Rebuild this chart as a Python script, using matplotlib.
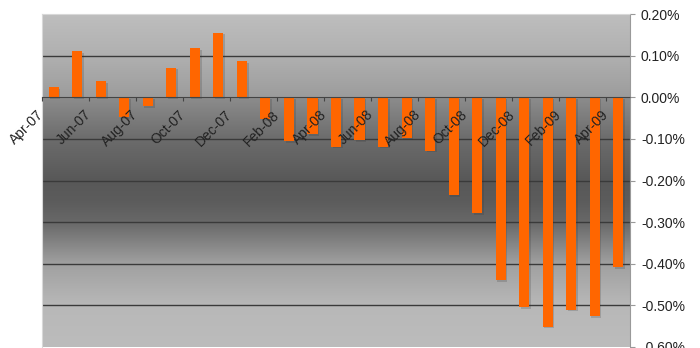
import matplotlib
matplotlib.use('Agg')
import matplotlib.pyplot as plt
import matplotlib.patheffects as pe
import numpy as np

plt.rcParams['font.family'] = ['Liberation Sans', 'DejaVu Sans']

# monthly change, in percent (Apr-07 .. Apr-09)
months = ['Apr-07', 'May-07', 'Jun-07', 'Jul-07', 'Aug-07', 'Sep-07', 'Oct-07',
          'Nov-07', 'Dec-07', 'Jan-08', 'Feb-08', 'Mar-08', 'Apr-08', 'May-08',
          'Jun-08', 'Jul-08', 'Aug-08', 'Sep-08', 'Oct-08', 'Nov-08', 'Dec-08',
          'Jan-09', 'Feb-09', 'Mar-09', 'Apr-09']
values = [0.024, 0.111, 0.038, -0.048, -0.022, 0.071, 0.118, 0.155, 0.087,
          -0.053, -0.105, -0.089, -0.119, -0.103, -0.119, -0.099, -0.128,
          -0.235, -0.279, -0.439, -0.504, -0.551, -0.510, -0.526, -0.408]
yticks = [0.2, 0.1, 0.0, -0.1, -0.2, -0.3, -0.4, -0.5, -0.6]

# background gradient stops (value -> grey level)
bg_pos = [-0.6, -0.5, -0.4, -0.3, -0.25, -0.2, -0.1, -0.001, 0.001, 0.1, 0.2]
bg_lvl = [188, 184, 160, 104, 92, 88, 108, 140, 156, 176, 190]

fig = plt.figure(figsize=(7, 3.48), dpi=100)
ax = fig.add_axes([0.06, 0.003, 0.84, 0.9566])

x = np.arange(len(values))
ymin, ymax = -0.6, 0.2
ax.set_xlim(-0.5, len(values) - 0.5)
ax.set_ylim(ymin, ymax)

# gradient
ys = np.linspace(ymax, ymin, 400)
g = np.interp(ys, bg_pos, bg_lvl) / 255.0
img = np.dstack([g, g, g]).reshape(400, 1, 3)
ax.imshow(img, extent=[-0.5, len(values) - 0.5, ymin, ymax], aspect='auto',
          zorder=0, interpolation='bilinear')

for t in yticks:
    if t not in (0.0, ymin, ymax):
        ax.axhline(t, color='#3a3a3a', lw=1.0, zorder=1)

bars = ax.bar(x, values, width=0.43, color='#ff6600', zorder=2)
for b in bars:
    b.set_path_effects([pe.SimplePatchShadow(offset=(1.2, -1.2),
                                             shadow_rgbFace='#333333', alpha=0.2),
                        pe.Normal()])

ax.set_axisbelow(False)
ax.spines['bottom'].set_position(('data', 0))
ax.spines['bottom'].set_color('#444444')
ax.spines['right'].set_color('#999999')
ax.spines['left'].set_color('#d8d8d8')
ax.spines['top'].set_color('#d8d8d8')

ax.yaxis.tick_right()
ax.set_yticks(yticks)
ax.set_yticklabels(['%.2f%%' % t for t in yticks])
ax.tick_params(axis='y', direction='out', length=3.6, width=0.8, color='#999999',
               pad=4.3, labelsize=10, labelcolor='#222222')

ax.set_xticks(x[::2] - 0.5)
ax.set_xticklabels(months[::2], rotation=45, ha='right', va='center',
                   rotation_mode='anchor')
ax.tick_params(axis='x', direction='out', length=3, width=0.8, color='#444444',
               pad=8, labelsize=10, labelcolor='#222222')
for lab in ax.get_xticklabels():
    lab.set_zorder(5)

fig.savefig('out.png', dpi=100)
